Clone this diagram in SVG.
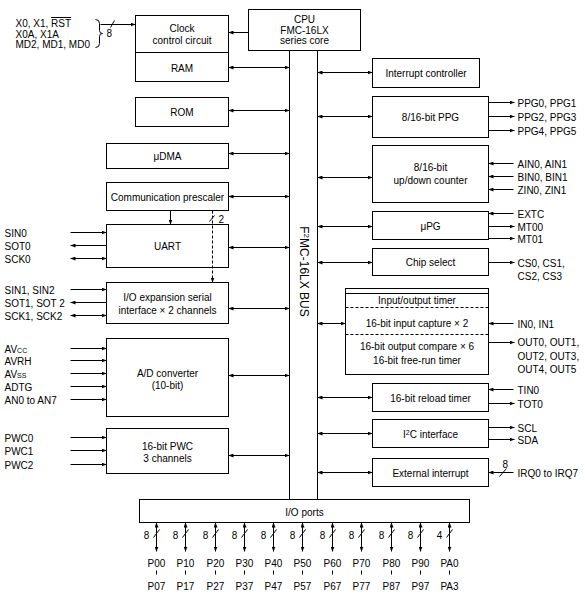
<svg xmlns="http://www.w3.org/2000/svg" width="585" height="597" viewBox="0 0 585 597">
<defs>
<style>
.b{fill:#fff;stroke:#000;stroke-width:1}
.t{font-family:"Liberation Sans",Arial,Helvetica,sans-serif;font-size:10px;fill:#000}
.c{text-anchor:middle}
.l{stroke:#000;stroke-width:1;fill:none}
.bi{marker-start:url(#ah);marker-end:url(#ah)}
.e{marker-end:url(#ah)}
.d{stroke-dasharray:3,2}
.sub{font-size:7px}
</style>
<marker id="ah" viewBox="0 0 5 4" refX="5" refY="2" markerWidth="5" markerHeight="4" markerUnits="userSpaceOnUse" orient="auto-start-reverse"><path d="M0,0L5,2L0,4z" fill="#000"/></marker>
</defs>
<rect width="585" height="597" fill="#fff"/>
<g transform="translate(0.5 0.5)">
<g id="inputs-clock">
<text class="t" x="15" y="26.5">X0, X1, <tspan style="text-decoration:overline">RST</tspan></text>
<text class="t" x="15" y="37">X0A, X1A</text>
<text class="t" x="15" y="47.5">MD2, MD1, MD0</text>
<path class="l" d="M95,19 Q99,19 99,23 L99,30 Q99,33 102,33 Q99,33 99,36 L99,43 Q99,47 95,47"/>
</g>
<g id="clock"><rect class="b" x="135" y="15" width="93" height="37"/><text class="t c" x="181.5" y="31">Clock</text><text class="t c" x="181.5" y="43">control circuit</text></g>
<g id="ram"><rect class="b" x="135" y="52" width="93" height="29"/><text class="t c" x="181.5" y="71">RAM</text></g>
<g id="rom"><rect class="b" x="135" y="97" width="93" height="29"/><text class="t c" x="181.5" y="115">ROM</text></g>
<g id="udma"><rect class="b" x="106" y="143" width="122" height="25"/><text class="t c" x="167" y="159">μDMA</text></g>
<g id="prescaler"><rect class="b" x="106" y="182" width="122" height="28"/><text class="t c" x="167" y="200">Communication prescaler</text></g>
<g id="uart"><rect class="b" x="106" y="224" width="122" height="43"/><text class="t c" x="167" y="249">UART</text>
<text class="t" x="4" y="236">SIN0</text><text class="t" x="4" y="249">SOT0</text><text class="t" x="4" y="262">SCK0</text></g>
<g id="ioexp"><rect class="b" x="106" y="282" width="122" height="41"/><text class="t c" x="167" y="300">I/O expansion serial</text><text class="t c" x="167" y="313">interface × 2 channels</text>
<text class="t" x="4" y="293">SIN1, SIN2</text><text class="t" x="4" y="306">SOT1, SOT 2</text><text class="t" x="4" y="319">SCK1, SCK2</text></g>
<g id="adc"><rect class="b" x="106" y="338" width="122" height="78"/><text class="t c" x="167" y="376">A/D converter</text><text class="t c" x="167" y="388">(10-bit)</text>
<text class="t" x="4" y="352">AV<tspan class="sub">CC</tspan></text><text class="t" x="4" y="364">AVRH</text><text class="t" x="4" y="377">AV<tspan class="sub">SS</tspan></text><text class="t" x="4" y="390">ADTG</text><text class="t" x="4" y="403">AN0 to AN7</text></g>
<g id="pwc"><rect class="b" x="106" y="428" width="122" height="45"/><text class="t c" x="167" y="449">16-bit PWC</text><text class="t c" x="167" y="461">3 channels</text>
<text class="t" x="4" y="441">PWC0</text><text class="t" x="4" y="454">PWC1</text><text class="t" x="4" y="468">PWC2</text></g>
<g id="cpu"><rect class="b" x="248" y="9" width="112" height="41"/><text class="t c" x="304" y="22">CPU</text><text class="t c" x="304" y="33">FMC-16LX</text><text class="t c" x="304" y="43.5">series core</text></g>
<g id="bus"><rect class="b" x="289" y="50" width="28" height="449"/><text class="t c" style="font-size:12px" transform="translate(299 271) rotate(90)">F<tspan style="font-size:8px" dy="-4">2</tspan><tspan dy="4">MC-16LX BUS</tspan></text></g>
<g id="intc"><rect class="b" x="372" y="58" width="107" height="29"/><text class="t c" x="425.5" y="76">Interrupt controller</text></g>
<g id="ppg"><rect class="b" x="372" y="96" width="116" height="41"/><text class="t c" x="430" y="120">8/16-bit PPG</text>
<text class="t" x="517" y="106">PPG0, PPG1</text><text class="t" x="517" y="120">PPG2, PPG3</text><text class="t" x="517" y="134">PPG4, PPG5</text></g>
<g id="updown"><rect class="b" x="372" y="145" width="116" height="57"/><text class="t c" x="430" y="170">8/16-bit</text><text class="t c" x="430" y="183">up/down counter</text>
<text class="t" x="517" y="167">AIN0, AIN1</text><text class="t" x="517" y="180">BIN0, BIN1</text><text class="t" x="517" y="193">ZIN0, ZIN1</text></g>
<g id="upg"><rect class="b" x="372" y="211" width="116" height="28"/><text class="t c" x="430" y="229">μPG</text>
<text class="t" x="517" y="217">EXTC</text><text class="t" x="517" y="230">MT00</text><text class="t" x="517" y="242">MT01</text></g>
<g id="chipsel"><rect class="b" x="372" y="248" width="116" height="27"/><text class="t c" x="430" y="265">Chip select</text>
<text class="t" x="517" y="266">CS0, CS1,</text><text class="t" x="517" y="279">CS2, CS3</text></g>
<g id="iotimer"><rect class="b" x="345" y="288" width="143" height="86"/><line class="l" x1="345" y1="293" x2="488" y2="293"/><line class="l d" x1="345" y1="307" x2="488" y2="307"/><line class="l d" x1="345" y1="334" x2="488" y2="334"/>
<text class="t c" x="416.5" y="303">Input/output timer</text><text class="t c" x="416.5" y="326">16-bit input capture × 2</text><text class="t c" x="416.5" y="349">16-bit output compare × 6</text><text class="t c" x="416.5" y="363">16-bit free-run timer</text>
<text class="t" x="517" y="327">IN0, IN1</text><text class="t" x="517" y="345">OUT0, OUT1,</text><text class="t" x="517" y="359">OUT2, OUT3,</text><text class="t" x="517" y="372">OUT4, OUT5</text></g>
<g id="reload"><rect class="b" x="372" y="383" width="116" height="28"/><text class="t c" x="430" y="401">16-bit reload timer</text>
<text class="t" x="517" y="393">TIN0</text><text class="t" x="517" y="407">TOT0</text></g>
<g id="i2c"><rect class="b" x="372" y="419" width="116" height="28"/><text class="t c" x="430" y="437">I<tspan style="font-size:7px" dy="-3">2</tspan><tspan dy="3">C interface</tspan></text>
<text class="t" x="517" y="431">SCL</text><text class="t" x="517" y="443">SDA</text></g>
<g id="extint"><rect class="b" x="372" y="458" width="116" height="28"/><text class="t c" x="430" y="476">External interrupt</text>
<text class="t" x="517" y="476">IRQ0 to IRQ7</text><text class="t" x="502" y="467">8</text></g>
<g id="ioports"><rect class="b" x="139" y="499" width="330" height="23"/><text class="t c" x="304" y="515">I/O ports</text></g>
<g id="ports" class="t c">
<text x="156" y="566">P00</text><text x="156" y="589">P07</text>
<text x="185" y="566">P10</text><text x="185" y="589">P17</text>
<text x="215" y="566">P20</text><text x="215" y="589">P27</text>
<text x="244" y="566">P30</text><text x="244" y="589">P37</text>
<text x="273" y="566">P40</text><text x="273" y="589">P47</text>
<text x="302" y="566">P50</text><text x="302" y="589">P57</text>
<text x="332" y="566">P60</text><text x="332" y="589">P67</text>
<text x="361" y="566">P70</text><text x="361" y="589">P77</text>
<text x="391" y="566">P80</text><text x="391" y="589">P87</text>
<text x="420" y="566">P90</text><text x="420" y="589">P97</text>
<text x="449" y="566">PA0</text><text x="449" y="589">PA3</text>
<text x="146" y="538">8</text><text x="175" y="538">8</text><text x="205" y="538">8</text><text x="234" y="538">8</text><text x="263" y="538">8</text><text x="292" y="538">8</text><text x="322" y="538">8</text><text x="351" y="538">8</text><text x="381" y="538">8</text><text x="410" y="538">8</text><text x="439" y="538">4</text>
</g>
<g id="connectors">
<line class="l e" x1="100" y1="24" x2="135" y2="24"/>
<line class="l" x1="110" y1="27" x2="114" y2="20"/>
<text class="t" x="106" y="36">8</text>
<line class="l e" x1="248" y1="32" x2="228" y2="32"/>
<line class="l bi" x1="228" y1="67" x2="289" y2="67"/>
<line class="l bi" x1="228" y1="110" x2="289" y2="110"/>
<line class="l bi" x1="228" y1="153" x2="289" y2="153"/>
<line class="l bi" x1="228" y1="196" x2="289" y2="196"/>
<line class="l bi" x1="228" y1="247" x2="289" y2="247"/>
<line class="l bi" x1="228" y1="308" x2="289" y2="308"/>
<line class="l bi" x1="228" y1="375" x2="289" y2="375"/>
<line class="l bi" x1="228" y1="455" x2="289" y2="455"/>
<line class="l e" x1="170" y1="210" x2="170" y2="224"/>
<line class="l d e" x1="212" y1="210" x2="212" y2="282"/>
<line class="l" x1="209" y1="221" x2="214" y2="215"/>
<text class="t" x="218" y="222">2</text>
<line class="l e" x1="70" y1="232" x2="106" y2="232"/>
<line class="l e" x1="106" y1="245" x2="70" y2="245"/>
<line class="l bi" x1="70" y1="258" x2="106" y2="258"/>
<line class="l e" x1="70" y1="289" x2="106" y2="289"/>
<line class="l e" x1="106" y1="302" x2="70" y2="302"/>
<line class="l bi" x1="70" y1="315" x2="106" y2="315"/>
<line class="l e" x1="70" y1="348" x2="106" y2="348"/>
<line class="l e" x1="70" y1="360" x2="106" y2="360"/>
<line class="l e" x1="70" y1="373" x2="106" y2="373"/>
<line class="l e" x1="70" y1="386" x2="106" y2="386"/>
<line class="l e" x1="70" y1="399" x2="106" y2="399"/>
<line class="l e" x1="70" y1="437" x2="106" y2="437"/>
<line class="l e" x1="70" y1="450" x2="106" y2="450"/>
<line class="l e" x1="70" y1="464" x2="106" y2="464"/>
<line class="l bi" x1="317" y1="72" x2="372" y2="72"/>
<line class="l bi" x1="317" y1="116" x2="372" y2="116"/>
<line class="l bi" x1="317" y1="177" x2="372" y2="177"/>
<line class="l bi" x1="317" y1="226" x2="372" y2="226"/>
<line class="l bi" x1="317" y1="262" x2="372" y2="262"/>
<line class="l bi" x1="317" y1="323" x2="345" y2="323"/>
<line class="l bi" x1="317" y1="397" x2="372" y2="397"/>
<line class="l bi" x1="317" y1="433" x2="372" y2="433"/>
<line class="l bi" x1="317" y1="472" x2="372" y2="472"/>
<line class="l e" x1="488" y1="102" x2="514" y2="102"/>
<line class="l e" x1="488" y1="116" x2="514" y2="116"/>
<line class="l e" x1="488" y1="130" x2="514" y2="130"/>
<line class="l e" x1="513" y1="163" x2="488" y2="163"/>
<line class="l e" x1="513" y1="176" x2="488" y2="176"/>
<line class="l e" x1="513" y1="189" x2="488" y2="189"/>
<line class="l e" x1="513" y1="213" x2="488" y2="213"/>
<line class="l e" x1="488" y1="226" x2="514" y2="226"/>
<line class="l e" x1="488" y1="238" x2="514" y2="238"/>
<line class="l e" x1="488" y1="262" x2="514" y2="262"/>
<line class="l e" x1="513" y1="323" x2="488" y2="323"/>
<line class="l e" x1="488" y1="342" x2="514" y2="342"/>
<line class="l e" x1="513" y1="389" x2="488" y2="389"/>
<line class="l e" x1="488" y1="403" x2="514" y2="403"/>
<line class="l e" x1="488" y1="427" x2="514" y2="427"/>
<line class="l e" x1="488" y1="439" x2="514" y2="439"/>
<line class="l e" x1="513" y1="472" x2="488" y2="472"/>
<line class="l" x1="499" y1="476" x2="506" y2="468"/>
<g id="port-lines">
<line class="l bi" x1="156" y1="522" x2="156" y2="551"/><line class="l" x1="153" y1="537" x2="159" y2="529"/><line class="l" x1="156" y1="570" x2="156" y2="574"/>
<line class="l bi" x1="185" y1="522" x2="185" y2="551"/><line class="l" x1="182" y1="537" x2="188" y2="529"/><line class="l" x1="185" y1="570" x2="185" y2="574"/>
<line class="l bi" x1="215" y1="522" x2="215" y2="551"/><line class="l" x1="212" y1="537" x2="218" y2="529"/><line class="l" x1="215" y1="570" x2="215" y2="574"/>
<line class="l bi" x1="244" y1="522" x2="244" y2="551"/><line class="l" x1="241" y1="537" x2="247" y2="529"/><line class="l" x1="244" y1="570" x2="244" y2="574"/>
<line class="l bi" x1="273" y1="522" x2="273" y2="551"/><line class="l" x1="270" y1="537" x2="276" y2="529"/><line class="l" x1="273" y1="570" x2="273" y2="574"/>
<line class="l bi" x1="302" y1="522" x2="302" y2="551"/><line class="l" x1="299" y1="537" x2="305" y2="529"/><line class="l" x1="302" y1="570" x2="302" y2="574"/>
<line class="l bi" x1="332" y1="522" x2="332" y2="551"/><line class="l" x1="329" y1="537" x2="335" y2="529"/><line class="l" x1="332" y1="570" x2="332" y2="574"/>
<line class="l bi" x1="361" y1="522" x2="361" y2="551"/><line class="l" x1="358" y1="537" x2="364" y2="529"/><line class="l" x1="361" y1="570" x2="361" y2="574"/>
<line class="l bi" x1="391" y1="522" x2="391" y2="551"/><line class="l" x1="388" y1="537" x2="394" y2="529"/><line class="l" x1="391" y1="570" x2="391" y2="574"/>
<line class="l bi" x1="420" y1="522" x2="420" y2="551"/><line class="l" x1="417" y1="537" x2="423" y2="529"/><line class="l" x1="420" y1="570" x2="420" y2="574"/>
<line class="l bi" x1="449" y1="522" x2="449" y2="551"/><line class="l" x1="446" y1="537" x2="452" y2="529"/><line class="l" x1="449" y1="570" x2="449" y2="574"/>
</g>
</g>
</g>
</svg>
